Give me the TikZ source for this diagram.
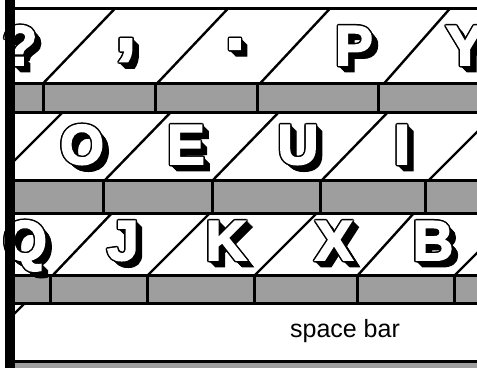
\documentclass[tikz,border=0pt]{standalone}
\usepackage{fontspec}
\newfontfamily\keyfont{Liberation Sans}
\newfontfamily\heavyfont[FakeBold=3.5]{Liberation Sans Bold}
\newcommand{\keyglyph}[5][56]{%
  \foreach \d in {0.5,1,...,6.5} \node[glyph,font=\heavyfont\fontsize{#1}{#1}\selectfont,text=black] at (#3+\d,#4+\d) {#5};
  \foreach \a in {0,45,...,315} \node[glyph,font=\heavyfont\fontsize{#1}{#1}\selectfont,text=black] at ({#3+1.5*cos(\a)},{#4+1.5*sin(\a)}) {#5};
  \node[glyph,font=\heavyfont\fontsize{#1}{#1}\selectfont,text=white] (#2) at (#3,#4) {#5};
}
\begin{document}
\begin{tikzpicture}[x=1pt,y=-1pt,
  hline/.style={line width=3pt},
  dline/.style={line width=2.4pt},
  vline/.style={line width=3pt},
  strip/.style={fill=black!38},
  glyph/.style={inner sep=0pt, anchor=base}]
\useasboundingbox (0,0) rectangle (477,368);
\clip (0,0) rectangle (477,368);
\fill[white] (0,0) rectangle (477,368);
% gray strips
\fill[strip] (15,85) rectangle (477,110.5);
\fill[strip] (15,181.5) rectangle (477,211.5);
\fill[strip] (15,276.5) rectangle (477,301.5);
\fill[strip] (15,362.5) rectangle (477,368);
% dividers
\foreach \x in {43,155,257,378} \draw[vline] (\x,84) -- (\x,112);
\foreach \x in {103,212,320,425} \draw[vline] (\x,180) -- (\x,213);
\foreach \x in {50,147,254,357,454} \draw[vline] (\x,275) -- (\x,303);
% diagonals
\draw[dline] (43,83.5) -- (115,8.5);
\draw[dline] (157,83.5) -- (228,8.5);
\draw[dline] (260,83.5) -- (330,8.5);
\draw[dline] (384,83.5) -- (450,8.5);
\draw[dline] (14,161) -- (63,112);
\draw[dline] (105,180) -- (171,112);
\draw[dline] (213,180) -- (279,112);
\draw[dline] (322,180) -- (388,112);
\draw[dline] (429,180) -- (497,112);
\draw[dline] (53,275) -- (112,213);
\draw[dline] (148,275) -- (210,213);
\draw[dline] (255,275) -- (317,213);
\draw[dline] (358,275) -- (414,213);
\draw[dline] (455,275) -- (517,213);
\draw[dline] (14,314) -- (25,303);
% legends
\keyglyph{kq}{20}{65}{?}
\keyglyph[72]{kcomma}{126}{50}{,}
\keyglyph[66]{kdot}{235}{49}{.}
\keyglyph{kp}{354}{65}{P}
\keyglyph{ky}{465}{65}{Y}
\keyglyph{ko}{82}{164}{O}
\keyglyph{ke}{186}{164}{E}
\keyglyph{ku}{298}{164}{U}
\keyglyph{ki}{402}{164}{I}
\keyglyph{kqq}{25}{260}{Q}
\keyglyph{kj}{123}{260}{J}
\keyglyph{kk}{226}{260}{K}
\keyglyph{kx}{334}{260}{X}
\keyglyph{kb}{433}{260}{B}
\node[font=\keyfont\fontsize{25}{25}\selectfont, inner sep=0pt] (sb) at (345,331) {space bar};
% horizontal lines
\foreach \y in {8.5,83.5,112,180,213,275,303,361} \draw[hline] (15,\y) -- (477,\y);
% left bar
\fill[black] (5,0) rectangle (15,368);
\end{tikzpicture}
\end{document}
